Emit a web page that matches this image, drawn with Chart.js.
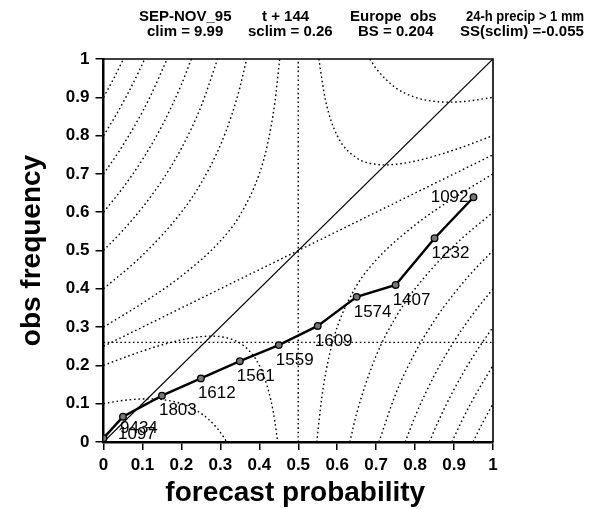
<!DOCTYPE html>
<html><head><meta charset="utf-8">
<script src="https://cdn.jsdelivr.net/npm/chart.js@4"></script>
<style>html,body{margin:0;padding:0;background:#fff}canvas{display:block}</style>
</head><body>
<canvas id="c" width="597" height="509"></canvas>
<script>
// ---- data ----
const titleLine1 = ['SEP-NOV_95', 't + 144', 'Europe  obs', '24-h precip > 1 mm'];
const titleLine2 = ['clim = 9.99', 'sclim = 0.26', 'BS = 0.204', 'SS(sclim) =-0.055'];
const xAxisTitle = 'forecast probability';
const yAxisTitle = 'obs frequency';
const xTickValues = [0,0.1,0.2,0.3,0.4,0.5,0.6,0.7,0.8,0.9,1];
const xTickLabels = ['0','0.1','0.2','0.3','0.4','0.5','0.6','0.7','0.8','0.9','1'];
const yTickValues = [0,0.1,0.2,0.3,0.4,0.5,0.6,0.7,0.8,0.9,1];
const yTickLabels = ['0','0.1','0.2','0.3','0.4','0.5','0.6','0.7','0.8','0.9','1'];

const forecastProb = [0.0, 0.05, 0.15, 0.25, 0.35, 0.45, 0.55, 0.65, 0.75, 0.85, 0.95];
const obsFreq      = [0.01, 0.066, 0.121, 0.166, 0.211, 0.253, 0.303, 0.379, 0.41, 0.532, 0.639];
const sampleCounts = ['1097','9434','1803','1612','1561','1559','1609','1574','1407','1232','1092'];

const sclim = 0.26;
const diagonal = [[0,0],[1,1]];
const sclimLine = [[0,sclim],[1,sclim]];

// dotted isolines (Brier score levels)
const iso01Left  = [[0,0.1],[0.04,0.107],[0.08,0.1114],[0.12,0.1126],[0.16,0.1094],[0.2,0.1],[0.24,0.0815],[0.27,0.0589],[0.29,0.0379],[0.30,0.025],[0.31,0.0103],[0.3162,0]];
const iso02Left  = [[0,0.2],[0.05,0.2194],[0.1,0.2375],[0.15,0.2536],[0.2,0.2667],[0.25,0.275],[0.276,0.2764],[0.3,0.275],[0.33,0.2679],[0.36,0.2514],[0.39,0.2177],[0.41,0.1772],[0.43,0.1079],[0.44,0.0533],[0.4472,0]];
const iso025Vert = [[0.5,0],[0.5,1]];
const iso025Line = [[0,0.25],[1,0.75]];
const iso03Left  = [[0,0.3],[0.1,0.3625],[0.2,0.4333],[0.3,0.525],[0.35,0.5917],[0.4,0.7],[0.42,0.7725],[0.44,0.8867],[0.4523,1]];
const iso04Left  = [[0,0.4],[0.1,0.4875],[0.2,0.6],[0.25,0.675],[0.3,0.775],[0.33,0.8562],[0.35,0.925],[0.3675,1]];
const iso05Left  = [[0,0.5],[0.05,0.5528],[0.1,0.6125],[0.15,0.6821],[0.2,0.7667],[0.25,0.875],[0.2929,1]];
const iso06Left  = [[0,0.6],[0.05,0.6639],[0.1,0.7375],[0.15,0.825],[0.2,0.9333],[0.2254,1]];
const iso07Left  = [[0,0.7],[0.04,0.7591],[0.08,0.8257],[0.12,0.9021],[0.1633,1]];
const iso08Left  = [[0,0.8],[0.03,0.8501],[0.06,0.905],[0.09,0.9657],[0.1056,1]];
const iso09Left  = [[0,0.9],[0.025,0.9467],[0.0513,1]];
const iso01Right = [[0.6838,1],[0.7,0.975],[0.75,0.925],[0.8,0.9],[0.85,0.8893],[0.887,0.8873],[0.93,0.8894],[1,0.9]];
const iso02Right = [[0.5528,1],[0.57,0.8921],[0.6,0.8],[0.65,0.7417],[0.7,0.725],[0.724,0.7236],[0.8,0.7333],[0.9,0.7625],[1,0.8]];
const iso03Right = [[0.5477,0],[0.56,0.1133],[0.58,0.2275],[0.6,0.3],[0.65,0.4083],[0.7,0.475],[0.8,0.5667],[0.9,0.6375],[1,0.7]];
const iso04Right = [[0.6325,0],[0.65,0.075],[0.7,0.225],[0.75,0.325],[0.8,0.4],[0.9,0.5125],[1,0.6]];
const iso05Right = [[0.7071,0],[0.75,0.125],[0.8,0.2333],[0.85,0.3179],[0.9,0.3875],[0.95,0.4472],[1,0.5]];
const iso06Right = [[0.7746,0],[0.8,0.0667],[0.85,0.175],[0.9,0.2625],[0.95,0.3361],[1,0.4]];
const iso07Right = [[0.8367,0],[0.86,0.055],[0.9,0.1375],[0.95,0.225],[1,0.3]];
const iso08Right = [[0.8944,0],[0.92,0.0552],[0.95,0.1139],[1,0.2]];
const iso09Right = [[0.9487,0],[0.97,0.0435],[1,0.1]];

const isolines = [iso01Left, iso02Left, iso025Vert, iso025Line, iso03Left, iso04Left, iso05Left, iso06Left, iso07Left, iso08Left, iso09Left,
  iso01Right, iso02Right, iso03Right, iso04Right, iso05Right, iso06Right, iso07Right, iso08Right, iso09Right];

// ---- chart ----
const toXY = arr => arr.map(([x,y]) => ({x, y}));
const FONT = '"Liberation Sans", Arial, Helvetica, sans-serif';

const datasets = [];
datasets.push({
  label: 'reliability',
  data: forecastProb.map((p,i) => ({x:p, y:obsFreq[i]})),
  showLine: true, borderColor: '#000', borderWidth: 2.5,
  pointRadius: 3.3, pointBackgroundColor: '#777', pointBorderColor: '#000', pointBorderWidth: 1.3,
  order: 0
});
datasets.push({
  label: 'diagonal', data: toXY(diagonal), showLine: true, borderColor: '#000', borderWidth: 1.2,
  pointRadius: 0, order: 1
});
datasets.push({
  label: 'sclim', data: toXY(sclimLine), showLine: true, borderColor: '#000', borderWidth: 1.3,
  borderDash: [1.6, 2.6], pointRadius: 0, order: 2
});
isolines.forEach((arr, k) => datasets.push({
  label: 'iso' + k, data: toXY(arr), showLine: true, borderColor: '#000', borderWidth: 1.4,
  borderDash: [1.6, 2.8], pointRadius: 0, cubicInterpolationMode: 'monotone', order: 3
}));

const overlay = {
  id: 'overlay',
  beforeDraw(chart) {
    const ctx = chart.ctx;
    ctx.save(); ctx.fillStyle = '#fff'; ctx.fillRect(0, 0, chart.width, chart.height); ctx.restore();
  },
  afterDraw(chart) {
    const ctx = chart.ctx, a = chart.chartArea;
    const xs = chart.scales.x, ys = chart.scales.y;
    ctx.save();
    // frame (top, right)
    ctx.strokeStyle = '#000'; ctx.lineWidth = 1.6;
    ctx.beginPath();
    ctx.moveTo(a.left, a.top); ctx.lineTo(a.right, a.top); ctx.lineTo(a.right, a.bottom);
    ctx.stroke();
    // point labels
    ctx.fillStyle = '#000';
    ctx.font = '17px ' + FONT;
    ctx.textBaseline = 'middle';
    forecastProb.forEach((p, i) => {
      const px = xs.getPixelForValue(p), py = ys.getPixelForValue(obsFreq[i]);
      let dx = -3, dy = 15, align = 'left', bx = px, by = py;
      if (i === 0) { bx = xs.getPixelForValue(forecastProb[1]); by = ys.getPixelForValue(obsFreq[1]); dx = -5; dy = 18; }
      if (i === 1) { dx = -3; dy = 12; }
      if (i === forecastProb.length - 1) { dx = -5; dy = 0; align = 'right'; }
      ctx.textAlign = align;
      ctx.fillText(sampleCounts[i], bx + dx, by + dy);
    });
    // title
    ctx.font = 'bold 15px ' + FONT;
    ctx.textBaseline = 'alphabetic';
    ctx.textAlign = 'left';
    const t1x = [139, 262, 350, 466], t1w = [94, 56, 96, 118];
    const t2x = [147, 248, 358, 460], t2w = [85, 98, 88, 124];
    titleLine1.forEach((s, i) => ctx.fillText(s, t1x[i], 20.5, t1w[i]));
    titleLine2.forEach((s, i) => ctx.fillText(s, t2x[i], 36, t2w[i]));
    // axis titles
    ctx.font = 'bold 28px ' + FONT;
    ctx.textAlign = 'center';
    ctx.fillText(xAxisTitle, (a.left + a.right) / 2 - 3, 501);
    ctx.translate(40, (a.top + a.bottom) / 2);
    ctx.rotate(-Math.PI / 2);
    ctx.fillText(yAxisTitle, 0, 0);
    ctx.restore();
  }
};

const tickFont = { family: FONT, size: 17, weight: 'bold' };
new Chart(document.getElementById('c'), {
  type: 'scatter',
  data: { datasets },
  options: {
    responsive: false, animation: false, devicePixelRatio: 1,
    layout: { padding: { left: 0, right: 104, top: 59, bottom: 0 } },
    plugins: { legend: { display: false }, tooltip: { enabled: false }, title: { display: false } },
    elements: { line: { tension: 0 } },
    scales: {
      x: {
        type: 'linear', min: 0, max: 1,
        afterBuildTicks: s => { s.ticks = xTickValues.map(v => ({ value: v })); },
        afterFit: s => { s.height = 67; },
        ticks: { callback: (v, i) => xTickLabels[i], font: tickFont, color: '#000', padding: 5, maxRotation: 0, autoSkip: false },
        grid: { drawOnChartArea: false, drawTicks: true, tickLength: 8, color: '#000', lineWidth: 1.5 },
        border: { display: true, color: '#000', width: 2.5 }
      },
      y: {
        type: 'linear', min: 0, max: 1,
        afterBuildTicks: s => { s.ticks = yTickValues.map(v => ({ value: v })); },
        afterFit: s => { s.width = 103.5; },
        ticks: { callback: (v, i) => yTickLabels[i], font: tickFont, color: '#000', padding: 6, autoSkip: false },
        grid: { drawOnChartArea: false, drawTicks: true, tickLength: 8, color: '#000', lineWidth: 1.5 },
        border: { display: true, color: '#000', width: 2.5 }
      }
    }
  },
  plugins: [overlay]
});
</script>
</body></html>
